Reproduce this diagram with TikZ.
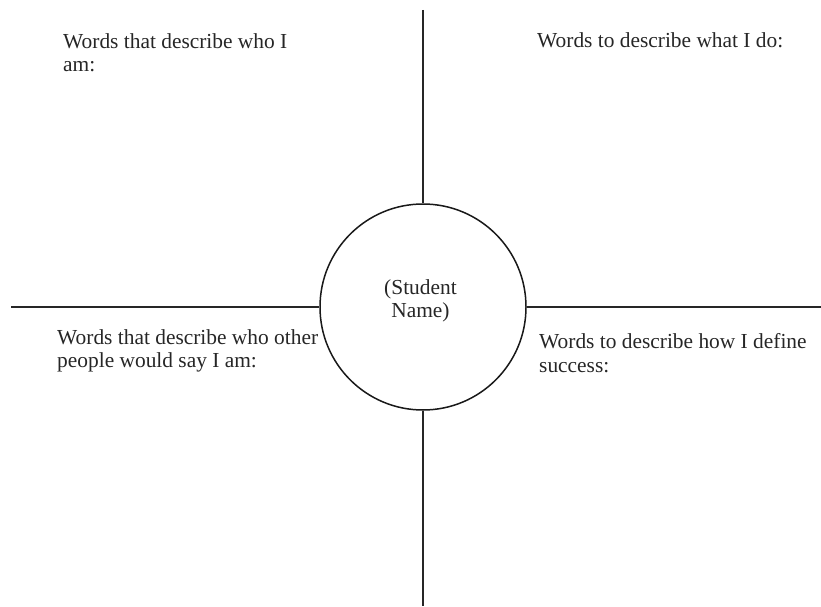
\documentclass[tikz,border=0pt]{standalone}
\usepackage{fontspec}
\setmainfont{Liberation Serif}
\begin{document}
\begin{tikzpicture}[x=1pt,y=-1pt,
  label/.style={anchor=base west,inner sep=0pt,align=left,text=black!85,
    font=\fontsize{21.4}{23.4}\selectfont},
  rule/.style={line width=1.1pt,draw=black!85}]
\useasboundingbox (0,0) rectangle (821,607);
\node[circle,draw=black!90,line width=1.5pt,minimum size=206pt,inner sep=0pt] (c) at (423,307) {};
\node[anchor=base,inner sep=0pt,align=center,text=black!85,
  font=\fontsize{21.4}{23}\selectfont] (name) at (420.5,317) {(Student\\Name)};
\coordinate (t) at (423,10);
\coordinate (b) at (423,606);
\coordinate (l) at (11,307);
\coordinate (r) at (821,307);
\draw[rule] (t) -- (c.north);
\draw[rule] (c.south) -- (b);
\draw[rule] (l) -- (c.west);
\draw[rule] (c.east) -- (r);
\node[label] (tl) at (63,71.7) {Words that describe who I\\am:};
\node[label] (tr) at (537,48) {Words to describe what I do:};
\node[label] (bl) at (57,367.7) {Words that describe who other\\people would say I am:};
\node[label] (br) at (539,372) {Words to describe how I define\\success:};
\end{tikzpicture}
\end{document}
